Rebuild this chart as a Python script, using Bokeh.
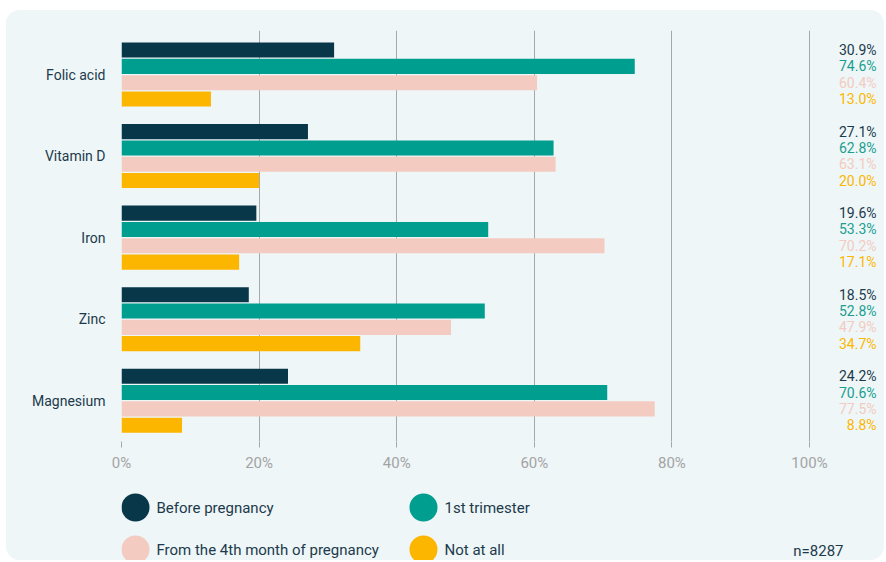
from bokeh.plotting import figure
from bokeh.models import Range1d, FixedTicker, ColumnDataSource
from bokeh.layouts import column
from bokeh.core.properties import value
from bokeh.embed import file_html
from bokeh.resources import INLINE

# ---- data ----
nutrients = ["Folic acid", "Vitamin D", "Iron", "Zinc", "Magnesium"]
series_names = ["Before pregnancy", "1st trimester", "From the 4th month of pregnancy", "Not at all"]
before_pregnancy = [30.9, 27.1, 19.6, 18.5, 24.2]
first_trimester = [74.6, 62.8, 53.3, 52.8, 70.6]
from_4th_month = [60.4, 63.1, 70.2, 47.9, 77.5]
not_at_all = [13.0, 20.0, 17.1, 34.7, 8.8]
x_ticks = [0, 20, 40, 60, 80, 100]
x_tick_labels = ["0%", "20%", "40%", "60%", "80%", "100%"]
sample_note = "n=8287"

# ---- style ----
FONT = "Roboto"
BG = "#eef6f8"
bar_colors = ["#083749", "#009e8f", "#f4cbc0", "#fdb600"]
label_colors = ["#1c3a4b", "#1a9e8f", "#f4cbc0", "#fdb600"]
TEXT = "#1c3a4b"
GRID = "#a8a8a8"

series = [before_pregnancy, first_trimester, from_4th_month, not_at_all]
offsets = [-0.3, -0.1, 0.1, 0.3]
bar_h = 0.185

W = 878
LEFT = 115
p = figure(width=W, height=468, output_backend="svg", toolbar_location=None,
           x_range=Range1d(0, 110.9), y_range=Range1d(4.5, -0.54),
           min_border_left=LEFT, min_border_right=0, min_border_top=20, min_border_bottom=37,
           background_fill_color=BG, border_fill_color=BG, outline_line_color=None)

label_x = 109.74
for vals, off, col, lcol in zip(series, offsets, bar_colors, label_colors):
    ys = [i + off for i in range(len(nutrients))]
    src = ColumnDataSource(dict(y=ys, right=vals, lab=[f"{v:.1f}%" for v in vals],
                                lx=[label_x] * len(vals)))
    p.hbar(y="y", left=0, right="right", height=bar_h, source=src, fill_color=col, line_color=None)
    p.text(x="lx", y="y", text="lab", source=src, text_align="right", text_baseline="middle",
           text_font=value(FONT), text_font_size="14px", text_color=lcol)

p.xgrid.ticker = FixedTicker(ticks=x_ticks)
p.xgrid.grid_line_color = GRID
p.xgrid.grid_line_width = 1
p.ygrid.grid_line_color = None

p.xaxis.ticker = FixedTicker(ticks=x_ticks)
p.xaxis.major_label_overrides = {t: l for t, l in zip(x_ticks, x_tick_labels)}
p.xaxis.axis_line_color = None
p.xaxis.major_tick_line_color = GRID
p.xaxis.major_tick_out = 6
p.xaxis.major_tick_in = 0
p.xaxis.minor_tick_line_color = None
p.xaxis.major_label_standoff = 6
p.xaxis.major_label_text_font = FONT
p.xaxis.major_label_text_font_size = "15px"
p.xaxis.major_label_text_color = "#a3a3a3"

p.yaxis.ticker = FixedTicker(ticks=list(range(len(nutrients))))
p.yaxis.major_label_overrides = {i: n for i, n in enumerate(nutrients)}
p.yaxis.axis_line_color = None
p.yaxis.major_tick_line_color = None
p.yaxis.minor_tick_line_color = None
p.yaxis.major_label_standoff = 10
p.yaxis.major_label_text_font = FONT
p.yaxis.major_label_text_font_size = "14px"
p.yaxis.major_label_text_color = TEXT

# ---- legend figure (its frame is aligned with the chart frame by the column) ----
LH = 82
lg = figure(width=W, height=LH, output_backend="svg", toolbar_location=None,
            x_range=Range1d(LEFT, W), y_range=Range1d(LH, 0),
            x_axis_location=None, y_axis_location=None,
            min_border_left=LEFT, min_border_right=0, min_border_top=0, min_border_bottom=0,
            background_fill_color=BG, border_fill_color=BG, outline_line_color=None)
lg.grid.visible = False
col_x = [129, 417, 129, 417]
row_y = [29, 29, 71, 71]
lsrc = ColumnDataSource(dict(x=col_x, y=row_y, c=bar_colors, name=series_names,
                             tx=[x + 21 for x in col_x]))
lg.scatter(x="x", y="y", size=28, marker="circle", fill_color="c", line_color=None, source=lsrc)
lg.text(x="tx", y="y", text="name", source=lsrc, text_baseline="middle",
        text_font=value(FONT), text_font_size="15px", text_color=TEXT)
lg.text(x=[837], y=[72], text=[sample_note], text_align="right", text_baseline="middle",
        text_font=value(FONT), text_font_size="15px", text_color=TEXT)

layout = column(p, lg, spacing=0,
                styles={"margin-left": "6px", "margin-top": "10px",
                        "border-radius": "14px", "overflow": "hidden",
                        "background-color": BG})
open("out.html", "w").write(file_html(layout, INLINE))
